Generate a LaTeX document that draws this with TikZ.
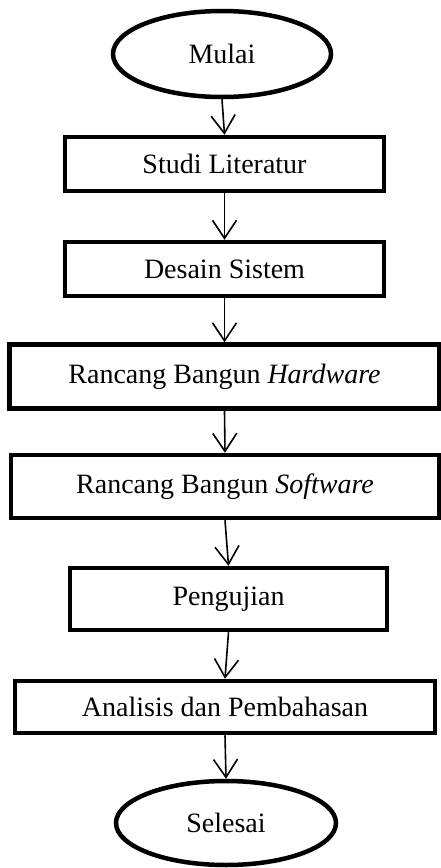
\documentclass[tikz,border=0pt]{standalone}
\usepackage{fontspec}
\setmainfont{Liberation Serif}
\usetikzlibrary{shapes.geometric,arrows.meta}

\begin{document}
\begin{tikzpicture}[x=1pt,y=-1pt]
        \tikzstyle{every path}=[line width=4.5pt]
        \useasboundingbox (0,0) rectangle (441,868);

        \def\sizetext{\fontsize{28}{33}\selectfont}
        \tikzstyle{terminal}=[draw,ellipse,inner sep=0pt,font=\sizetext]
        \tikzstyle{process}=[draw,rectangle,inner sep=0pt,font=\sizetext]
        \tikzstyle{flow}=[line width=1.6pt,-{Straight Barb[length=18pt,width=24pt]}]

        \node [terminal,minimum width=218pt,minimum height=86pt] (mulai) at (222,54) {Mulai};
        \node [process,minimum width=319pt,minimum height=54pt] (studi) at (224.5,164) {Studi Literatur};
        \node [process,minimum width=319pt,minimum height=54pt] (desain) at (224.5,269) {Desain Sistem};
        \node [process,minimum width=430pt,minimum height=64pt] (hardware) at (224.5,376.5) {Rancang Bangun \textit{Hardware}};
        \node [process,minimum width=428pt,minimum height=63pt] (software) at (225,486.5) {Rancang Bangun \textit{Software}};
        \node [process,minimum width=317pt,minimum height=62pt] (uji) at (228.5,599) {Pengujian};
        \node [process,minimum width=420pt,minimum height=52pt] (analisis) at (225,707) {Analisis dan Pembahasan};
        \node [terminal,minimum width=220pt,minimum height=84pt] (selesai) at (226,823) {Selesai};

        \draw[flow] (mulai.south) -- (studi.north);        % mulai->studi
        \draw[flow] (studi.south) -- (desain.north);       % studi->desain
        \draw[flow] (desain.south) -- (hardware.north);    % desain->hardware
        \draw[flow] (hardware.south) -- (software.north);  % hardware->software
        \draw[flow] (software.south) -- (uji.north);       % software->uji
        \draw[flow] (uji.south) -- (analisis.north);       % uji->analisis
        \draw[flow] (analisis.south) -- (selesai.north);   % analisis->selesai

\end{tikzpicture}
\end{document}
